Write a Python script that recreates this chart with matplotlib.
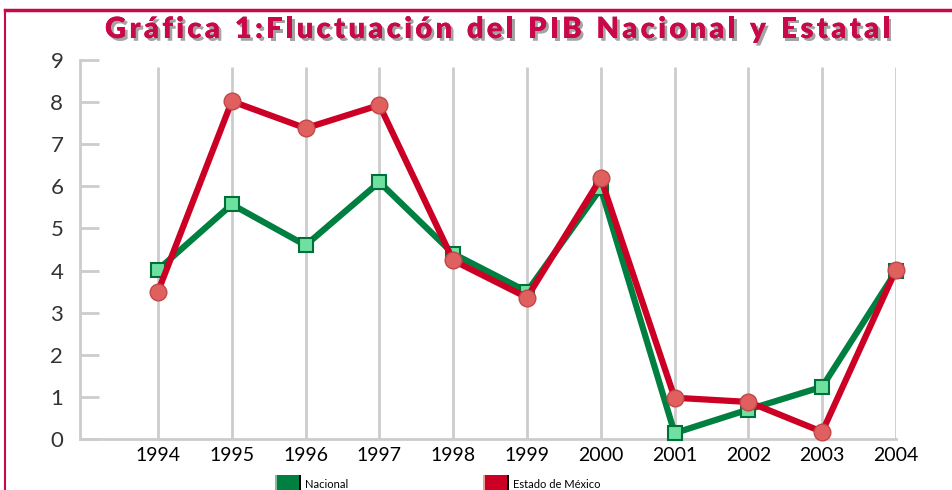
import matplotlib
matplotlib.use("Agg")
import matplotlib.pyplot as plt
import matplotlib.patheffects as pe
from matplotlib.patches import Rectangle
from matplotlib.lines import Line2D

years = [1994, 1995, 1996, 1997, 1998, 1999, 2000, 2001, 2002, 2003, 2004]
nacional = [4.02, 5.57, 4.6, 6.1, 4.4, 3.5, 5.95, 0.14, 0.7, 1.24, 3.98]
estado = [3.5, 8.02, 7.38, 7.93, 4.24, 3.36, 6.19, 0.98, 0.88, 0.17, 4.02]
y_ticks = [0, 1, 2, 3, 4, 5, 6, 7, 8, 9]
title = "Gráfica 1:Fluctuación del PIB Nacional y Estatal"
labels = ["Nacional", "Estado de México"]

plt.rcParams['font.family'] = ['Lato', 'DejaVu Sans']

W, H = 953, 490
fig = plt.figure(figsize=(W/100, H/100), dpi=100)
crimson = "#c8084a"
green = "#008040"
red = "#cc0025"

# frame lines
fig.add_artist(Line2D([5/W, 5/W], [0, 1 - 10/H], color=crimson, lw=1.5))
fig.add_artist(Line2D([5/W, 1], [1 - 10/H, 1 - 10/H], color=crimson, lw=2.5))

# letter-spaced title
renderer = fig.canvas.get_renderer()
tprops = dict(fontsize=21, fontweight='heavy', color=crimson, va='center', ha='left',
              path_effects=[pe.withSimplePatchShadow(offset=(2, -2), shadow_rgbFace='#999999', alpha=0.9), pe.Normal()])
widths = []
for ch in title:
    t = fig.text(0, 0, ch if ch != ' ' else 'n', **{k: v for k, v in tprops.items() if k != 'path_effects'})
    w = t.get_window_extent(renderer).width
    if ch == ' ':
        w *= 0.5
    widths.append(w)
    t.remove()
x_start, x_end = 105, 890
total = sum(widths)
gap = (x_end - x_start - total) / (len(title) - 1)
x = x_start
for ch, w in zip(title, widths):
    if ch != ' ':
        fig.text(x / W, 1 - 30/H, ch, **tprops)
    x += w + gap

left, right = 80/W, 896/W
bottom, top = 1 - 439/H, 1 - 60/H
ax = fig.add_axes([left, bottom, right - left, top - bottom])
x0 = years[0] - (158 - 80) / ((896 - 158) / 10)
ax.set_xlim(x0, years[-1])
ax.set_ylim(0, 9)

for s in ['top', 'right']:
    ax.spines[s].set_visible(False)
for s in ['left', 'bottom']:
    ax.spines[s].set_color('#cccccc')
    ax.spines[s].set_linewidth(2)

for yr in years:
    ax.plot([yr, yr], [0, 8.83], color='#cccccc', lw=2, zorder=1, solid_capstyle='butt')

ax.set_yticks(y_ticks)
ax.set_yticklabels([str(v) for v in y_ticks], fontsize=16, color='#333333')
ax.tick_params(axis='y', direction='in', length=14, width=2, color='#cccccc', pad=12)
ax.set_xticks(years)
ax.set_xticklabels([str(y) for y in years], fontsize=14, color='black')
ax.tick_params(axis='x', length=0, pad=6)

ax.plot(years, nacional, color=green, lw=4.5, zorder=3, clip_on=False,
        marker='s', markersize=10, markerfacecolor='#6ee0a0', markeredgecolor='#00703a',
        markeredgewidth=1.5)
ax.plot(years, estado, color=red, lw=4.5, zorder=4, clip_on=False,
        marker='o', markersize=12, markerfacecolor='#e06060', markeredgecolor='#c04848',
        markeredgewidth=1)

# legend
for (xp, col, edge, lab) in [(275, green, '#88bb99', labels[0]), (483, red, '#e8a090', labels[1])]:
    fig.add_artist(Rectangle((xp/W, 0), 24/W, 15/H, facecolor=col, edgecolor='none', transform=fig.transFigure))
    fig.add_artist(Rectangle((xp/W, 0), 2/W, 15/H, facecolor=edge, edgecolor='none', transform=fig.transFigure))
    fig.add_artist(Rectangle(((xp + 24)/W, 0), 2/W, 15/H, facecolor='black', edgecolor='none', transform=fig.transFigure))
    fig.text((xp + 30)/W, 6/H, lab, fontsize=8, color='black', va='center', ha='left')

fig.savefig("out.png", dpi=100)
